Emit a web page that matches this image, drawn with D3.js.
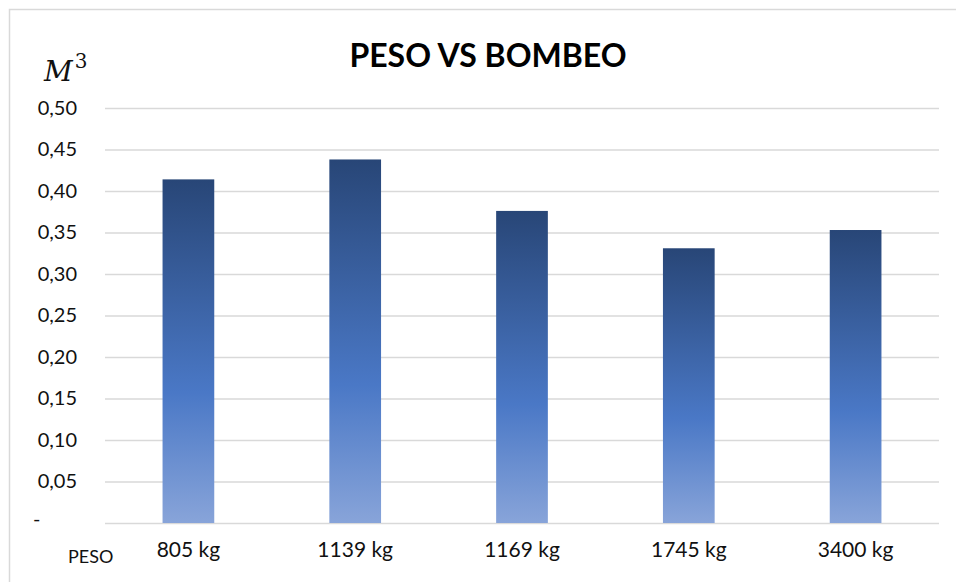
<!DOCTYPE html>
<html>
<head>
<meta charset="utf-8">
<script src="https://cdn.jsdelivr.net/npm/d3@7"></script>
<style>
  body { margin: 0; background: #fff; }
  svg { font-family: Lato, "Open Sans", sans-serif; }
</style>
</head>
<body>
<div id="chart"></div>
<script>
// data
const categories = ["805 kg", "1139 kg", "1169 kg", "1745 kg", "3400 kg"];
const values = [0.414, 0.438, 0.376, 0.331, 0.353];
const yTicks = [0, 0.05, 0.10, 0.15, 0.20, 0.25, 0.30, 0.35, 0.40, 0.45, 0.50];

const containerwidth = 956, containerheight = 582;
const margin = { left: 105, right: 17, top: 108, bottom: 59 };
const width = containerwidth - margin.left - margin.right,
      height = containerheight - margin.top - margin.bottom;

const svg = d3.select('#chart')
  .append('svg')
  .attr('width', containerwidth)
  .attr('height', containerheight);

// gradient like the excel fill
const defs = svg.append('defs');
const grad = defs.append('linearGradient')
  .attr('id', 'barGrad')
  .attr('x1', 0).attr('y1', 0).attr('x2', 0).attr('y2', 1);
grad.append('stop').attr('offset', '0%').attr('stop-color', '#284677');
grad.append('stop').attr('offset', '62%').attr('stop-color', '#4a78c6');
grad.append('stop').attr('offset', '100%').attr('stop-color', '#88a4d9');

// chart area border (left + top only visible)
svg.append('path')
  .attr('d', 'M9.5,582 V9.5 H956')
  .attr('fill', 'none')
  .attr('stroke', '#d9d9d9')
  .attr('stroke-width', 1.5);

const g = svg.append('g')
  .attr('transform', `translate(${margin.left},${margin.top})`);

const xScale = d3.scaleBand()
  .domain(categories)
  .range([0, width])
  .paddingInner(0.69)
  .paddingOuter(0.345);

const yScale = d3.scaleLinear()
  .domain([0, 0.5])
  .range([height, 0]);

const fmt = d => d === 0 ? '-' : d3.format('.2f')(d).replace('.', ',');

// grid + y labels
const yAxis = d3.axisLeft(yScale)
  .tickValues(yTicks)
  .tickSize(-width)
  .tickPadding(28)
  .tickFormat(fmt);

const yAxisG = g.append('g').attr('class', 'yAxisG').call(yAxis);
yAxisG.select('.domain').remove();
yAxisG.selectAll('.tick line')
  .attr('stroke', '#d9d9d9')
  .attr('stroke-width', 1.5);
yAxisG.selectAll('.tick text')
  .attr('fill', '#111')
  .style('font-size', '20px')
  .style('font-family', 'Lato, sans-serif');
// the zero label is a dash sitting at the left of the label column
yAxisG.selectAll('.tick')
  .filter(d => d === 0)
  .select('text')
  .attr('text-anchor', 'start')
  .attr('x', -72)
  .attr('dy', '0.1em');

// bars
g.append('g').attr('class', 'bars')
  .selectAll('rect')
  .data(values)
  .enter().append('rect')
  .attr('x', (d, i) => xScale(categories[i]))
  .attr('y', d => yScale(d))
  .attr('width', xScale.bandwidth())
  .attr('height', d => height - yScale(d))
  .attr('fill', 'url(#barGrad)');

// x labels
const xAxis = d3.axisBottom(xScale).tickSize(0).tickPadding(19);
const xAxisG = g.append('g')
  .attr('transform', `translate(0,${height})`)
  .call(xAxis);
xAxisG.select('.domain').remove();
xAxisG.selectAll('.tick text')
  .attr('fill', '#111')
  .style('font-size', '21px')
  .style('font-family', 'Lato, sans-serif');

// axis captions
svg.append('text')
  .attr('x', 68)
  .attr('y', 563)
  .attr('fill', '#111')
  .style('font-size', '18px')
  .text('PESO');

const m3 = svg.append('text')
  .attr('x', 44)
  .attr('y', 81)
  .attr('fill', '#111')
  .style('font-family', '"DejaVu Serif", "Liberation Serif", serif')
  .style('font-style', 'italic')
  .style('font-size', '28px');
m3.append('tspan').text('M');
m3.append('tspan')
  .attr('dy', -13)
  .attr('dx', 2)
  .style('font-style', 'normal')
  .style('font-size', '20px')
  .text('3');

// title
svg.append('text')
  .attr('x', 488)
  .attr('y', 67)
  .attr('text-anchor', 'middle')
  .attr('fill', '#000')
  .style('font-weight', 'bold')
  .style('font-size', '32px')
  .text('PESO VS BOMBEO');
</script>
</body>
</html>
